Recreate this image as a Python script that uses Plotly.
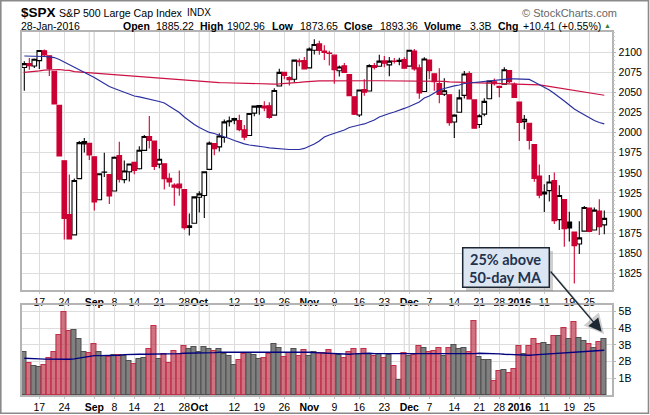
import plotly.graph_objects as go

dates = ["Aug12","Aug13","Aug14","Aug17","Aug18","Aug19","Aug20","Aug21","Aug24","Aug25","Aug26","Aug27","Aug28","Aug31",
"Sep01","Sep02","Sep03","Sep04","Sep08","Sep09","Sep10","Sep11","Sep14","Sep15","Sep16","Sep17","Sep18","Sep21","Sep22","Sep23","Sep24","Sep25","Sep28","Sep29","Sep30",
"Oct01","Oct02","Oct05","Oct06","Oct07","Oct08","Oct09","Oct12","Oct13","Oct14","Oct15","Oct16","Oct19","Oct20","Oct21","Oct22","Oct23","Oct26","Oct27","Oct28","Oct29","Oct30",
"Nov02","Nov03","Nov04","Nov05","Nov06","Nov09","Nov10","Nov11","Nov12","Nov13","Nov16","Nov17","Nov18","Nov19","Nov20","Nov23","Nov24","Nov25","Nov27","Nov30",
"Dec01","Dec02","Dec03","Dec04","Dec07","Dec08","Dec09","Dec10","Dec11","Dec14","Dec15","Dec16","Dec17","Dec18","Dec21","Dec22","Dec23","Dec24","Dec28","Dec29","Dec30","Dec31",
"Jan04","Jan05","Jan06","Jan07","Jan08","Jan11","Jan12","Jan13","Jan14","Jan15","Jan19","Jan20","Jan21","Jan22","Jan25","Jan26","Jan27","Jan28"]

opens = [2081.10,2086.19,2083.15,2089.70,2101.99,2095.69,2076.61,2034.08,1965.15,1898.08,1872.75,1942.77,1986.06,1986.73,
1970.09,1916.52,1950.79,1947.76,1927.30,1971.45,1941.59,1951.45,1963.06,1955.10,1978.02,1995.33,1989.66,1960.84,1961.39,1943.24,1934.81,1935.93,1929.18,1881.90,1887.14,
1919.65,1921.77,1954.33,1986.63,1982.34,1994.01,2013.73,2015.65,2015.00,2003.66,1996.47,2024.37,2031.73,2033.13,2033.47,2021.88,2058.19,2075.08,2068.75,2066.48,2088.35,2090.00,
2080.76,2102.63,2110.60,2101.68,2098.60,2096.56,2077.19,2083.41,2072.29,2044.64,2022.08,2053.67,2051.99,2083.70,2082.82,2089.41,2084.42,2089.30,2088.82,2090.95,
2082.93,2101.71,2080.71,2051.24,2090.42,2073.39,2061.17,2047.93,2047.27,2013.37,2025.55,2046.50,2073.76,2040.81,2010.27,2023.15,2042.20,2063.52,2057.77,2060.54,2077.34,2060.59,
2038.20,2013.78,2011.71,1985.32,1945.97,1926.12,1927.83,1940.34,1891.68,1916.68,1888.66,1876.18,1861.46,1877.40,1906.28,1878.79,1902.52,1885.22]
highs = [2089.06,2092.93,2092.45,2102.87,2103.47,2096.17,2076.61,2034.08,1965.15,1948.04,1943.09,1989.60,1993.48,1986.73,
1970.09,1948.91,1975.01,1947.76,1970.42,1988.63,1965.29,1961.05,1963.06,1983.19,1997.26,2020.86,1989.66,1979.64,1961.39,1949.52,1937.17,1952.89,1929.18,1899.48,1920.53,
1927.21,1951.36,1989.17,1987.29,1999.31,2016.50,2020.13,2018.66,2022.34,2009.56,2024.15,2033.54,2034.45,2039.12,2037.97,2055.20,2079.74,2075.14,2070.37,2090.35,2092.52,2094.32,
2106.20,2116.48,2114.59,2108.78,2101.91,2096.56,2083.67,2086.94,2072.29,2044.64,2053.22,2066.69,2085.31,2086.74,2097.06,2095.61,2094.12,2093.00,2093.29,2093.81,
2103.37,2104.27,2085.00,2093.84,2090.42,2073.85,2080.33,2067.65,2047.27,2022.92,2053.87,2076.72,2076.37,2040.81,2022.90,2042.74,2064.73,2067.36,2057.77,2081.56,2077.34,2062.54,
2038.20,2021.94,2011.71,1985.32,1960.40,1935.65,1947.38,1950.33,1934.47,1916.68,1901.44,1876.18,1889.85,1908.85,1906.28,1906.73,1916.99,1902.96]
lows = [2052.09,2078.26,2080.61,2079.30,2094.14,2070.53,2035.73,1970.89,1867.01,1867.08,1872.75,1942.77,1975.19,1965.98,
1903.07,1916.52,1944.72,1911.21,1927.30,1937.88,1937.19,1939.19,1948.27,1954.30,1977.93,1980.37,1953.45,1955.80,1929.22,1932.57,1908.92,1921.50,1879.21,1871.91,1887.14,
1900.70,1893.70,1954.33,1971.76,1976.44,1987.53,2007.61,2010.55,2001.78,1990.73,1996.47,2020.46,2022.31,2026.61,2017.22,2021.88,2058.19,2066.53,2058.84,2063.11,2082.63,2079.34,
2080.76,2097.51,2096.98,2090.41,2083.74,2060.92,2069.91,2074.85,2045.66,2022.02,2019.39,2045.90,2051.99,2078.76,2082.82,2081.39,2070.29,2086.30,2084.13,2080.41,
2082.93,2077.11,2042.35,2051.24,2066.78,2052.32,2036.53,2045.67,2008.80,1993.26,2025.55,2042.43,2041.66,2005.33,2005.93,2020.49,2042.20,2058.73,2044.20,2060.54,2061.97,2043.62,
1989.68,2004.17,1979.05,1938.83,1918.46,1901.10,1914.35,1886.41,1878.93,1857.83,1864.60,1812.29,1848.98,1877.40,1875.97,1878.79,1872.70,1873.65]
closes = [2086.05,2083.39,2091.54,2102.44,2096.92,2079.61,2035.73,1970.89,1893.21,1867.61,1940.51,1987.66,1988.87,1972.18,
1913.85,1948.86,1951.13,1921.22,1969.41,1942.04,1952.29,1961.05,1953.03,1978.09,1995.31,1990.20,1958.03,1966.97,1942.74,1938.76,1932.24,1931.34,1881.77,1884.09,1920.03,
1923.82,1951.36,1987.05,1979.92,1995.83,2013.43,2014.89,2017.46,2003.69,1994.24,2023.86,2033.11,2033.66,2030.77,2018.94,2052.51,2075.15,2071.18,2065.89,2090.35,2089.41,2079.36,
2104.05,2109.79,2102.31,2099.93,2099.20,2078.58,2081.72,2075.00,2045.97,2023.04,2053.19,2050.44,2083.58,2081.24,2089.17,2086.59,2089.14,2088.87,2090.11,2080.41,
2102.63,2079.51,2049.62,2091.69,2077.07,2063.59,2047.62,2052.23,2012.37,2021.94,2043.41,2073.07,2041.89,2005.55,2021.15,2038.97,2064.29,2060.99,2056.50,2078.36,2063.36,2043.94,
2012.66,2016.71,1990.26,1943.09,1922.03,1923.67,1938.68,1890.28,1921.84,1880.33,1881.33,1859.33,1868.99,1906.90,1877.08,1903.63,1882.95,1893.36]

ma50 = [2095.5,2095.5,2095.5,2094.9,2094.9,2094.3,2093.6,2091.2,2088.0,2084.3,2081.2,2078.7,2075.6,2072.5,
2068.7,2065.0,2061.3,2057.5,2055.0,2052.6,2050.0,2047.6,2045.7,2044.5,2043.2,2042.0,2040.7,2038.9,2037.0,2033.3,2029.5,2025.2,2019.6,2014.6,2010.2,
2006.5,2003.4,2000.3,1999.0,1997.2,1995.3,1992.8,1990.3,1987.8,1986.0,1984.7,1984.1,1983.5,1982.2,1981.0,1980.4,1979.7,1979.1,1979.1,1979.1,1979.1,1980.4,
1982.8,1986.0,1989.7,1994.7,1997.2,1999.0,2001.5,2003.4,2006.5,2008.4,2009.6,2010.9,2013.3,2015.8,2019.6,2022.0,2023.9,2025.8,2027.7,2030.2,
2032.6,2035.1,2038.2,2043.2,2045.7,2049.5,2053.2,2055.0,2056.9,2058.2,2059.4,2061.3,2061.9,2062.5,2063.1,2064.4,2065.0,2065.6,2066.3,2066.9,2066.9,2066.9,
2066.9,2066.3,2066.3,2063.1,2060.0,2056.9,2053.2,2048.8,2044.5,2039.5,2034.5,2029.5,2025.8,2022.0,2018.3,2015.2,2012.7,2010.9]
ma200 = [2075.0,2075.5,2076.0,2077.0,2078.0,2078.5,2078.7,2078.7,2078.0,2077.5,2076.0,2075.5,2075.0,2074.5,
2074.0,2073.5,2073.0,2072.5,2072.0,2071.5,2071.0,2070.8,2070.6,2070.0,2069.5,2069.0,2068.5,2068.0,2067.0,2066.5,2066.0,2065.5,2065.0,2064.5,2064.0,
2063.5,2063.0,2062.8,2062.6,2062.4,2062.2,2062.0,2061.8,2061.6,2061.4,2061.0,2060.6,2060.3,2060.3,2060.4,2060.6,2060.9,2061.2,2061.6,2062.1,2062.7,2063.4,
2064.0,2064.3,2064.5,2064.6,2064.7,2064.7,2064.7,2064.7,2064.7,2064.7,2064.7,2064.7,2064.7,2064.7,2064.7,2064.7,2064.7,2064.7,2064.7,2064.7,
2064.7,2064.7,2064.7,2064.7,2064.7,2064.6,2064.5,2064.0,2063.2,2063.0,2062.9,2062.8,2062.6,2062.5,2062.4,2062.3,2062.2,2062.1,2062.0,2061.8,2061.6,2061.3,
2061.0,2060.7,2060.4,2060.0,2059.5,2058.6,2057.6,2056.6,2055.6,2054.5,2053.2,2052.4,2051.5,2050.6,2049.7,2048.6,2047.6,2046.6]

volume = [2.6,1.94,1.72,1.66,1.78,2.2,2.6,3.58,4.96,3.82,3.88,3.34,2.6,2.5,
3.04,2.56,2.32,2.26,2.38,2.38,2.32,2.02,1.84,2.14,2.2,2.74,4.12,2.14,2.44,1.9,2.62,2.44,2.92,2.74,2.86,
2.56,2.86,2.74,2.62,2.74,2.44,2.32,1.78,2.08,2.44,2.5,2.38,2.14,2.2,2.44,3.04,2.8,2.26,2.5,2.74,2.32,2.68,
2.32,2.56,2.5,2.5,2.68,2.44,2.38,2.2,2.56,2.74,2.44,2.74,2.44,2.32,2.44,2.2,2.38,1.72,0.88,2.5,
2.32,2.38,2.92,2.8,2.56,2.62,2.8,2.32,2.8,2.98,2.74,2.8,2.56,4.42,2.26,2.08,2.08,0.82,1.42,1.48,1.3,1.54,
2.92,2.44,2.92,3.34,3.04,3.1,2.98,3.52,3.52,4.0,3.34,4.36,3.4,3.22,3.04,2.8,3.16,3.34]
vol_ma = [2.2,2.2,2.18,2.16,2.15,2.14,2.14,2.14,2.14,2.14,2.16,2.22,2.28,2.33,
2.36,2.36,2.36,2.36,2.37,2.38,2.42,2.44,2.44,2.44,2.44,2.44,2.44,2.44,2.44,2.44,2.46,2.48,2.5,2.5,2.5,
2.5,2.5,2.52,2.54,2.56,2.56,2.56,2.56,2.56,2.56,2.56,2.56,2.56,2.56,2.58,2.6,2.6,2.6,2.6,2.58,2.56,2.56,
2.56,2.54,2.52,2.5,2.5,2.48,2.46,2.44,2.44,2.46,2.48,2.5,2.5,2.48,2.48,2.46,2.46,2.44,2.44,2.44,
2.44,2.44,2.44,2.44,2.44,2.44,2.44,2.44,2.44,2.44,2.44,2.44,2.46,2.48,2.5,2.5,2.48,2.46,2.46,2.44,2.42,2.4,
2.38,2.38,2.38,2.4,2.42,2.44,2.44,2.44,2.46,2.5,2.54,2.56,2.56,2.6,2.62,2.62,2.64,2.68]

x_labels = {"Aug17":"17","Aug24":"24","Sep01":"<b>Sep</b>","Sep08":"8","Sep14":"14","Sep21":"21","Sep28":"28","Oct01":"<b>Oct</b>",
"Oct12":"12","Oct19":"19","Oct26":"26","Nov02":"<b>Nov</b>","Nov09":"9","Nov16":"16","Nov23":"23","Dec01":"<b>Dec</b>","Dec07":"7",
"Dec14":"14","Dec21":"21","Dec28":"28","Jan04":"<b>2016</b>","Jan11":"11","Jan19":"19","Jan25":"25"}
month_lines = ["Sep01","Oct01","Nov02","Dec01","Jan04"]
week_lines = ["Aug31","Oct05","Nov30"]
price_ticks = [1825,1850,1875,1900,1925,1950,1975,2000,2025,2050,2075,2100]
vol_ticks = [1,2,3,4,5]
vol_tick_text = ["1B","2B","3B","4B","5B"]

for a in (opens, highs, lows, closes, ma50, ma200, volume, vol_ma):
    assert len(a) == len(dates), len(a)

W, H = 650, 415
L, R = 21.5, 611.7
FONT = "Liberation Sans"
RED, BLACK = "#cc0033", "#000000"

def px(v): return v / W
def py(v): return 1 - v / H

prev = [closes[0] - 1] + closes[:-1]
groups = [
    ("hollow-black", lambda c, o, p: c >= o and c >= p, BLACK, "#ffffff"),
    ("hollow-red", lambda c, o, p: c >= o and c < p, RED, "#ffffff"),
    ("solid-black", lambda c, o, p: c < o and c >= p, BLACK, BLACK),
    ("solid-red", lambda c, o, p: c < o and c < p, RED, RED),
]

fig = go.Figure()
for name, test, line, fill in groups:
    idx = [i for i in range(len(dates)) if test(closes[i], opens[i], prev[i])]
    if not idx:
        continue
    style = dict(line=dict(color=line, width=1.1), fillcolor=fill)
    fig.add_trace(go.Candlestick(
        x=[dates[i] for i in idx], open=[opens[i] for i in idx], high=[highs[i] for i in idx],
        low=[lows[i] for i in idx], close=[closes[i] for i in idx], name=name,
        increasing=style, decreasing=style, showlegend=False, xaxis="x", yaxis="y"))
fig.add_trace(go.Scatter(x=dates, y=ma200, mode="lines", line=dict(color="#cc1144", width=1.2), showlegend=False, xaxis="x", yaxis="y"))
fig.add_trace(go.Scatter(x=dates, y=ma50, mode="lines", line=dict(color="#2a2f9e", width=1.2), showlegend=False, xaxis="x", yaxis="y"))

down = [closes[i] < prev[i] for i in range(len(dates))]
fig.add_trace(go.Bar(x=dates, y=volume, width=1,
    marker=dict(color=["rgba(190,60,80,0.72)" if d else "#808080" for d in down],
                line=dict(color=["#c03048" if d else "#505050" for d in down], width=1.1)),
    showlegend=False, xaxis="x2", yaxis="y2"))
fig.add_trace(go.Scatter(x=dates, y=vol_ma, mode="lines", line=dict(color="#000080", width=1.3), showlegend=False, xaxis="x2", yaxis="y2"))

tickvals = list(x_labels)
ticktext = [x_labels[k] for k in tickvals]
xcommon = dict(type="category", categoryorder="array", categoryarray=dates, range=[-0.56, 117.48],
    domain=[px(L), px(R)], tickmode="array", tickvals=tickvals, ticktext=ticktext, tickangle=0,
    tickfont=dict(family=FONT, size=10.5, color="#000"), showgrid=True, gridcolor="#dddddd", gridwidth=1,
    showline=True, linecolor="#b4b4b4", linewidth=1.5, mirror=True, ticks="outside", ticklen=2, tickcolor="#c8c8c8",
    zeroline=False, rangeslider=dict(visible=False))
ycommon = dict(side="right", showgrid=True, gridcolor="#dddddd", gridwidth=1, zeroline=False,
    showline=True, linecolor="#b4b4b4", linewidth=1.5, mirror=True, ticks="outside", ticklen=3, tickcolor="#b4b4b4",
    tickfont=dict(family=FONT, size=10.5, color="#000"), tickmode="array")

shapes = []
for d in month_lines + week_lines:
    c = "#bcbcbc" if d in month_lines else "#dddddd"
    shapes.append(dict(type="line", xref="x", yref="y domain", x0=d, x1=d, y0=0, y1=1, layer="below", line=dict(color=c, width=1.2)))
    shapes.append(dict(type="line", xref="x2", yref="y2 domain", x0=d, x1=d, y0=0, y1=1, layer="below", line=dict(color=c, width=1.2)))
# outer frame
shapes.append(dict(type="rect", xref="paper", yref="paper", x0=px(0.8), x1=px(648.5), y0=py(413.2), y1=py(0.8), layer="below", line=dict(color="#8a8a8a", width=1.6)))
# callout box and its shadow
shapes.append(dict(type="rect", xref="paper", yref="paper", x0=px(466), x1=px(553), y0=py(291), y1=py(251), line=dict(width=0), fillcolor="rgba(120,120,120,0.35)"))
shapes.append(dict(type="rect", xref="paper", yref="paper", x0=px(462.7), x1=px(549.3), y0=py(287.3), y1=py(247.7), line=dict(color="#1c2733", width=1.5), fillcolor="#dce6f2"))

anns = []
def label(x, y, text, size=10.5, color="#000", family=FONT, anchor="left"):
    anns.append(dict(xref="paper", yref="paper", x=px(x), y=py(y), text=text, showarrow=False, xanchor=anchor, yanchor="middle",
                     xshift=0, font=dict(family=family, size=size, color=color), borderpad=0, borderwidth=0))

label(21, 12.5, "<b>$SPX</b>", size=13.5)
label(59, 12.5, "S&amp;P 500 Large Cap Index", size=10.6)
label(186.5, 12.5, "INDX", size=10)
label(522, 12.5, "© StockCharts.com", size=11, color="#666666")
label(21, 25.5, "28-Jan-2016")
for x, t, bold in [(123, "Open", 1), (156, "1885.22", 0), (200, "High", 1), (227, "1902.96", 0), (272, "Low", 1), (300, "1873.65", 0),
                   (343.5, "Close", 1), (380, "1893.36", 0), (424, "Volume", 1), (470, "3.3B", 0), (498, "Chg", 1), (523, "+10.41 (+0.55%)", 0)]:
    label(x, 25.5, f"<b>{t}</b>" if bold else t)
label(607, 25.5, "▲", size=7, color="#3a7a3a", anchor="center")
label(505.5, 259, "<b>25% above</b>", size=14.5, color="#1f3350", family="Lato", anchor="center")
label(505.5, 277, "<b>50-day MA</b>", size=14.5, color="#1f3350", family="Lato", anchor="center")
# arrows
for off, col, wd in [(2.5, "rgba(120,120,120,0.35)", 2), (0, "#1c2733", 1.3)]:
    anns.append(dict(xref="paper", yref="paper", x=px(601.7 + off), y=py(331.7 + off), axref="pixel", ayref="pixel",
                     ax=-52.4, ay=-61.7, text="", showarrow=True, arrowhead=2, arrowsize=2, arrowwidth=wd, arrowcolor=col))

fig.update_layout(
    width=W, height=H, margin=dict(l=0, r=0, t=0, b=0, pad=0), paper_bgcolor="#fff", plot_bgcolor="#fff",
    boxmode="overlay", boxgap=0.08, boxgroupgap=0, bargap=0, showlegend=False, hovermode=False,
    xaxis=dict(anchor="y", **xcommon),
    xaxis2=dict(anchor="y2", **xcommon),
    yaxis=dict(anchor="x", domain=[py(290), py(32)], range=[1804.1, 2125.4], tickvals=price_ticks, ticktext=[str(v) for v in price_ticks],
               minor=dict(dtick=5, ticks="outside", ticklen=1.5, tickcolor="#c8c8c8", showgrid=False), **ycommon),
    yaxis2=dict(anchor="x2", domain=[py(395), py(305)], range=[0, 5.39], tickvals=vol_ticks, ticktext=vol_tick_text, **ycommon),
    shapes=shapes, annotations=anns,
)
fig.write_html("out.html", config=dict(displayModeBar=False), post_script="document.body.style.margin='0';document.body.style.overflow='hidden';")
